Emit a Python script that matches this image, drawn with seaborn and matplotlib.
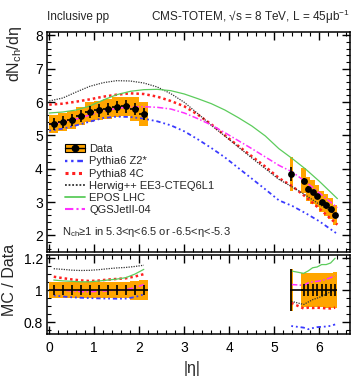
import numpy as np
import pandas as pd
import matplotlib
matplotlib.use("Agg")
import matplotlib.pyplot as plt
import seaborn as sns
from matplotlib.patches import Patch
from matplotlib.lines import Line2D
from matplotlib.ticker import MultipleLocator, FuncFormatter

# ------------------------------------------------------------------ data
eta_c = [0.1, 0.3, 0.5, 0.7, 0.9, 1.1, 1.3, 1.5, 1.7, 1.9, 2.1]
dndeta_c = [5.35, 5.40, 5.47, 5.58, 5.70, 5.75, 5.79, 5.85, 5.87, 5.79, 5.64]
syst_c = [0.05, 0.05, 0.05, 0.05, 0.05, 0.05, 0.05, 0.05, 0.05, 0.06, 0.065]
stat_c = [0.033, 0.033, 0.033, 0.033, 0.033, 0.033, 0.033, 0.033, 0.033, 0.033, 0.033]

eta_f = [5.375, 5.65, 5.75, 5.85, 5.95, 6.05, 6.15, 6.25, 6.35]
dndeta_f = [3.84, 3.64, 3.40, 3.30, 3.18, 3.01, 2.91, 2.80, 2.60]
syst_f = [0.13, 0.105, 0.105, 0.105, 0.105, 0.105, 0.11, 0.11, 0.115]
stat_f_top = [0.055, 0.02, 0.02, 0.02, 0.02, 0.02, 0.02, 0.02, 0.02]
stat_f_ratio = [0.13, 0.04, 0.04, 0.04, 0.04, 0.04, 0.04, 0.04, 0.04]

models = ["Pythia6 Z2*", "Pythia8 4C", "Herwig++ EE3-CTEQ6L1", "EPOS LHC", "QGSJetII-04"]

eta_mc = [0.0, 0.3, 0.6, 0.9, 1.2, 1.5, 1.8, 2.1, 2.4, 2.7, 3.0, 3.3, 3.6,
          3.9, 4.2, 4.5, 4.8, 5.1, 5.4, 5.7, 6.0, 6.4]
mc_pythia6 = [5.14, 5.20, 5.30, 5.41, 5.52, 5.56, 5.55, 5.50, 5.42, 5.30, 5.12, 4.88, 4.62,
              4.34, 4.02, 3.70, 3.38, 3.05, 2.88, 2.66, 2.42, 2.04]
mc_pythia8 = [5.92, 5.95, 6.01, 6.08, 6.16, 6.22, 6.26, 6.24, 6.16, 6.03, 5.87, 5.62, 5.33,
              5.00, 4.68, 4.37, 4.06, 3.72, 3.47, 3.15, 2.80, 2.32]
mc_herwig = [6.03, 6.12, 6.30, 6.47, 6.58, 6.64, 6.63, 6.57, 6.45, 6.25, 5.99, 5.65, 5.30,
             4.98, 4.65, 4.32, 4.00, 3.68, 3.45, 3.20, 2.93, 2.60]
mc_epos = [5.67, 5.70, 5.76, 5.88, 6.06, 6.22, 6.32, 6.37, 6.38, 6.34, 6.24, 6.10, 5.95,
           5.76, 5.53, 5.28, 4.98, 4.60, 4.30, 3.98, 3.62, 3.10]
mc_qgsjet = [5.33, 5.39, 5.49, 5.61, 5.73, 5.81, 5.85, 5.86, 5.84, 5.79, 5.67, 5.50, 5.31,
             5.08, 4.84, 4.60, 4.35, 4.10, 3.90, 3.60, 3.27, 2.83]

ratio_c_pythia6 = [0.967, 0.960, 0.955, 0.952, 0.950, 0.948, 0.947, 0.946, 0.947, 0.956, 0.973]
ratio_c_pythia8 = [1.084, 1.075, 1.067, 1.061, 1.057, 1.060, 1.066, 1.070, 1.074, 1.085, 1.100]
ratio_c_herwig = [1.134, 1.130, 1.125, 1.123, 1.124, 1.128, 1.134, 1.139, 1.142, 1.148, 1.156]
ratio_c_epos = [1.063, 1.058, 1.055, 1.052, 1.052, 1.057, 1.063, 1.069, 1.078, 1.100, 1.130]
ratio_c_qgsjet = [1.004, 1.000, 0.995, 0.991, 0.990, 0.993, 0.996, 1.000, 1.002, 1.015, 1.035]

ratio_f_pythia6 = [0.775, 0.765, 0.755, 0.762, 0.768, 0.770, 0.772, 0.776, 0.785]
ratio_f_pythia8 = [0.920, 0.885, 0.890, 0.888, 0.890, 0.888, 0.886, 0.885, 0.890]
ratio_f_herwig = [0.930, 0.910, 0.925, 0.940, 0.950, 0.960, 0.975, 0.990, 1.000]
ratio_f_epos = [1.120, 1.105, 1.120, 1.140, 1.145, 1.160, 1.160, 1.170, 1.200]
ratio_f_qgsjet = [1.035, 1.030, 1.045, 1.052, 1.055, 1.060, 1.068, 1.078, 1.090]

# ------------------------------------------------------------------ style
sns.set_theme(style="ticks")
plt.rcParams["font.family"] = ["Liberation Sans", "DejaVu Sans"]
plt.rcParams["mathtext.fontset"] = "custom"
plt.rcParams["mathtext.rm"] = "Liberation Sans"
plt.rcParams["mathtext.it"] = "Liberation Sans"
plt.rcParams["mathtext.default"] = "regular"

ORANGE = "#FFA500"
styles = {
    "Pythia6 Z2*": dict(color="#3a3aff", lw=1.3, ls=(0, (1, 1.6, 1, 1.6, 2.4, 1.6))),
    "Pythia8 4C": dict(color="#ff2020", lw=1.8, ls=(0, (1, 1.2))),
    "Herwig++ EE3-CTEQ6L1": dict(color="#333333", lw=0.9, ls=(0, (1, 1))),
    "EPOS LHC": dict(color="#5ccc5c", lw=0.9, ls="-"),
    "QGSJetII-04": dict(color="#ff30ff", lw=1.1, ls=(0, (4, 1.5, 1, 1.5))),
}
mc_top = dict(zip(models, [mc_pythia6, mc_pythia8, mc_herwig, mc_epos, mc_qgsjet]))
rc = dict(zip(models, [ratio_c_pythia6, ratio_c_pythia8, ratio_c_herwig, ratio_c_epos, ratio_c_qgsjet]))
rf = dict(zip(models, [ratio_f_pythia6, ratio_f_pythia8, ratio_f_herwig, ratio_f_epos, ratio_f_qgsjet]))

W, H = 362, 386
fig = plt.figure(figsize=(W / 100, H / 100), dpi=100)
ax = fig.add_axes([47 / W, 1 - 252 / H, 303 / W, 220 / H])
axr = fig.add_axes([47 / W, 1 - 334 / H, 303 / W, 79 / H], sharex=ax)

# ------------------------------------------------------------------ top panel
yc = np.array(dndeta_c); yf = np.array(dndeta_f)
sc = np.array(syst_c) * yc; sf = np.array(syst_f) * yf
ax.bar(eta_c, 2 * sc, bottom=yc - sc, width=0.2, color=ORANGE, lw=0, zorder=1)
ax.bar(eta_f, 2 * sf, bottom=yf - sf,
       width=[0.06] + [0.1] * (len(eta_f) - 1), color=ORANGE, lw=0, zorder=1)

for m in models:
    df = pd.DataFrame({"eta": eta_mc, "val": mc_top[m]})
    st = styles[m]
    sns.lineplot(data=df, x="eta", y="val", ax=ax, color=st["color"], lw=st["lw"],
                 linestyle=st["ls"], zorder=3, legend=False)

ax.errorbar(eta_c, yc, yerr=np.array(stat_c) * yc, xerr=0.1, fmt="none",
            ecolor="black", elinewidth=1.2, capsize=0, zorder=4)
ax.errorbar(eta_f, yf, yerr=np.array(stat_f_top) * yf, fmt="none",
            ecolor="black", elinewidth=1.2, capsize=0, zorder=4)
dd = pd.DataFrame({"eta": eta_c + eta_f, "val": dndeta_c + dndeta_f})
sns.scatterplot(data=dd, x="eta", y="val", ax=ax, color="black", s=24,
                edgecolor="black", linewidth=0, zorder=5, legend=False)

ax.set_xlim(-0.05, 6.68)
ax.set_ylim(1.5, 8.1)
ax.set_xlabel(""); ax.set_ylabel("")

# ------------------------------------------------------------------ ratio panel
ones_c = np.ones(len(eta_c)); ones_f = np.ones(len(eta_f))
axr.bar(eta_c, 2 * np.array(syst_c), bottom=1 - np.array(syst_c), width=0.2,
        color=ORANGE, lw=0, zorder=1)
axr.bar(eta_f, 2 * np.array(syst_f), bottom=1 - np.array(syst_f),
        width=[0.06] + [0.1] * (len(eta_f) - 1), color=ORANGE, lw=0, zorder=1)
for m in models:
    st = styles[m]
    for xs, ys in ((eta_c, rc[m]), (eta_f, rf[m])):
        df = pd.DataFrame({"eta": xs, "r": ys})
        sns.lineplot(data=df, x="eta", y="r", ax=axr, color=st["color"], lw=st["lw"],
                     linestyle=st["ls"], zorder=3, legend=False)
axr.errorbar(eta_c, ones_c, yerr=stat_c, xerr=0.1, fmt="none", ecolor="black",
             elinewidth=1.2, capsize=0, zorder=4)
axr.errorbar(eta_f, ones_f, yerr=stat_f_ratio,
             xerr=[[0.03] + [0.05] * 8, [0.25] + [0.05] * 8], fmt="none",
             ecolor="black", elinewidth=1.2, capsize=0, zorder=4)
axr.set_ylim(0.725, 1.22)
axr.set_xlabel(""); axr.set_ylabel("")

# ------------------------------------------------------------------ axes cosmetics
for a in (ax, axr):
    for s in a.spines.values():
        s.set_linewidth(1.1)
        s.set_color("black")
        s.set_visible(True)
    a.tick_params(which="both", direction="in", top=True, right=True,
                  colors="black", labelsize=10)
    a.tick_params(which="major", length=6, width=1.0)
    a.tick_params(which="minor", length=3, width=0.8)
    a.xaxis.set_major_locator(MultipleLocator(1))
    a.xaxis.set_minor_locator(MultipleLocator(0.2))
    a.set_facecolor("white")
ax.tick_params(labelbottom=False, pad=3)
ax.yaxis.set_major_locator(MultipleLocator(1))
ax.yaxis.set_minor_locator(MultipleLocator(0.2))
axr.yaxis.set_major_locator(MultipleLocator(0.2))
axr.yaxis.set_minor_locator(MultipleLocator(0.05))
axr.yaxis.set_major_formatter(FuncFormatter(lambda v, p: "%g" % round(v, 2)))
axr.tick_params(axis="y", pad=3)
axr.tick_params(axis="x", pad=5)

# ------------------------------------------------------------------ texts
ax.text(0.0, 1.07, "Inclusive pp", transform=ax.transAxes, ha="left", va="center",
        fontsize=8.5)
ax.text(1.0, 1.07, "CMS-TOTEM, \u221as = 8 TeV, L = 45\u03bcb$^{-1}$",
        transform=ax.transAxes, ha="right", va="center", fontsize=8.5)
fig.text(14 / W, 1 - 26 / H, "dN$_{ch}$/d\u03b7", rotation=90, ha="center", va="top",
         fontsize=11.5)
fig.text(10 / W, 1 - 280 / H, "MC / Data", rotation=90, ha="center", va="center",
         fontsize=11.5)
fig.text(192 / W, 1 - 369 / H, "|\u03b7|", ha="center", va="center", fontsize=11.5)
ax.text(0.05, 0.091, "N$_{ch}$\u22651 in 5.3<\u03b7<6.5 or -6.5<\u03b7<-5.3",
        transform=ax.transAxes, ha="left", va="center", fontsize=8)

# ------------------------------------------------------------------ legend
handles = [(Patch(facecolor=ORANGE, edgecolor="black", lw=0.8),
            Line2D([], [], color="black", marker="o", markersize=4.5, lw=1.0))]
labels = ["Data"]
for m in models:
    st = styles[m]
    handles.append(Line2D([], [], color=st["color"], lw=st["lw"] + 0.4, linestyle=st["ls"]))
    labels.append(m)
ax.legend(handles, labels, loc="upper left", bbox_to_anchor=(0.06, 0.49),
          frameon=False, fontsize=8, borderpad=0, borderaxespad=0,
          handlelength=1.8, handletextpad=0.35, labelspacing=0.2)

fig.savefig("out.png", dpi=100)
